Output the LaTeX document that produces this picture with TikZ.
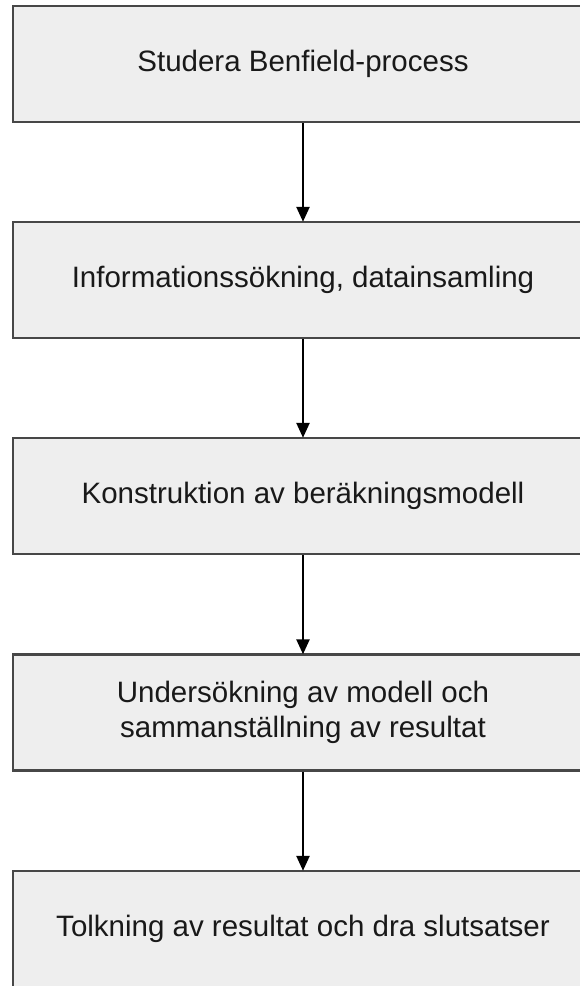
\documentclass[tikz,border=0pt]{standalone}
\usepackage{fontspec}
\setmainfont{Liberation Sans}
\usetikzlibrary{arrows.meta}
\begin{document}
\begin{tikzpicture}[x=1pt,y=-1pt,
  stepbox/.style={draw=black!72, line width=2.4pt, fill=black!6.5,
    minimum width=580pt, minimum height=116pt, inner sep=0pt,
    align=center, font=\fontsize{29.5}{35}\selectfont, text=black!90},
  flow/.style={line width=2.4pt, draw=black,
    -{Triangle[length=15pt,width=13pt]}, shorten >=-1pt}]
\useasboundingbox (0,0) rectangle (579,986);
\node[stepbox] (s1) at (303,64) {Studera Benfield-process};
\node[stepbox] (s2) at (303,280) {Informationssökning, datainsamling};
\node[stepbox] (s3) at (303,496) {Konstruktion av beräkningsmodell};
\node[stepbox] (s4) at (303,712.5) {Undersökning av modell och\\sammanställning av resultat};
\node[stepbox] (s5) at (303,929) {Tolkning av resultat och dra slutsatser};
\draw[flow] (s1) -- (s2);
\draw[flow] (s2) -- (s3);
\draw[flow] (s3) -- (s4);
\draw[flow] (s4) -- (s5);
\end{tikzpicture}
\end{document}
